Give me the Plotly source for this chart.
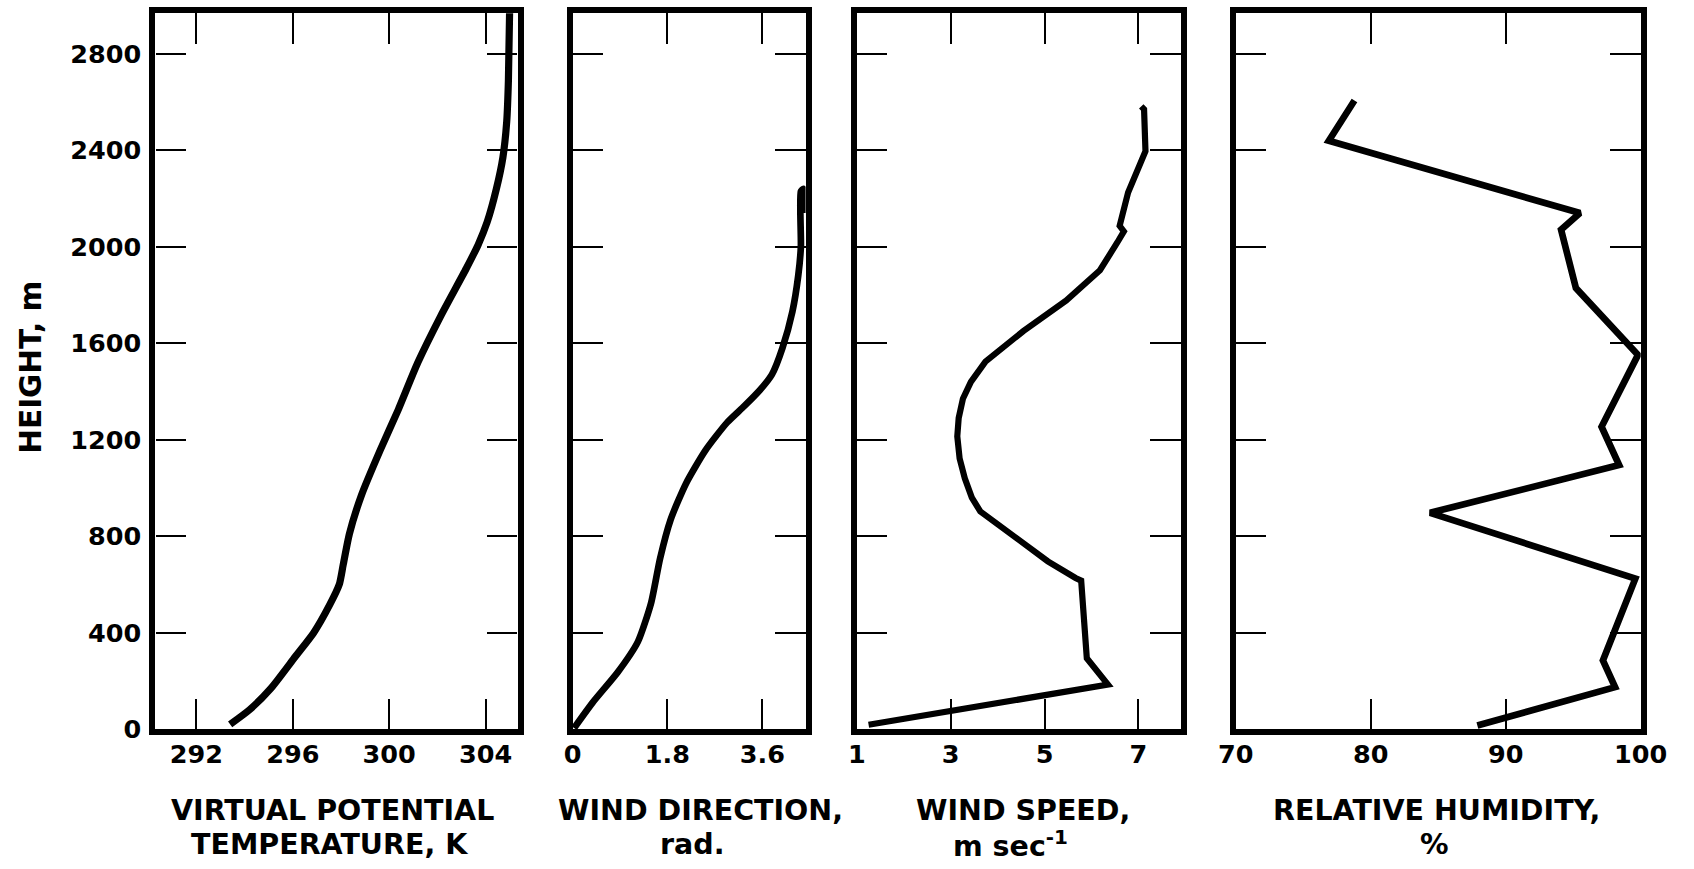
import plotly.graph_objects as go

# ---- vertical profiles (height in m) ----
theta_v = [293.4, 294.2, 295.1, 296.1, 296.87, 297.53, 297.93, 298.09, 298.35, 298.85,
           299.62, 300.38, 301.19, 302.15, 303.2, 303.7, 304.07, 304.45, 304.72, 304.88,
           304.95, 305.0]
theta_h = [20, 80, 170, 300, 400, 515, 600, 680, 810, 970,
           1155, 1325, 1520, 1715, 1910, 2010, 2103, 2240, 2370, 2520,
           2690, 2980]

wdir = [0.03, 0.38, 0.86, 1.24, 1.49, 1.66, 1.86, 2.15, 2.52, 2.93,
        3.26, 3.55, 3.78, 3.98, 4.17, 4.28, 4.33, 4.33, 4.38, 4.39]
wdir_h = [5, 110, 237, 363, 524, 708, 869, 1018, 1156, 1271,
          1340, 1405, 1470, 1580, 1732, 1880, 2000, 2230, 2240, 2140]

wspd = [1.25, 6.35, 5.9, 5.78, 5.66, 5.07, 3.63, 3.45, 3.3, 3.19,
        3.14, 3.17, 3.26, 3.43, 3.74, 4.55, 5.46, 6.18, 6.55, 6.69,
        6.6, 6.78, 7.15, 7.12, 7.06]
wspd_h = [18, 185, 294, 616, 627, 696, 903, 960, 1040, 1122,
          1214, 1290, 1370, 1440, 1524, 1651, 1777, 1903, 2018, 2064,
          2087, 2225, 2397, 2570, 2582]

rh = [87.9, 98.1, 97.2, 99.6, 84.4, 98.4, 97.1, 99.8, 95.2, 94.1, 95.5, 76.9, 78.8]
rh_h = [15, 174, 285, 624, 897, 1095, 1254, 1552, 1829, 2071, 2140, 2440, 2607]

# ---- axis ticks ----
height_ticks = [0, 400, 800, 1200, 1600, 2000, 2400, 2800]
theta_ticks = [292, 296, 300, 304]
wdir_ticks = [0, 1.8, 3.6]
wdir_ticktext = ["0", "1.8", "3.6"]
wspd_ticks = [1, 3, 5, 7]
rh_ticks = [70, 80, 90, 100]

W, H = 1694, 869
FONT = "DejaVu Sans"

fig = go.Figure()
fig.add_trace(go.Scatter(x=theta_v, y=theta_h, mode="lines", xaxis="x", yaxis="y",
                         line=dict(color="black", width=7.2, shape="spline", smoothing=0.6)))
fig.add_trace(go.Scatter(x=wdir, y=wdir_h, mode="lines", xaxis="x2", yaxis="y2",
                         line=dict(color="black", width=6.7, shape="spline", smoothing=0.6)))
fig.add_trace(go.Scatter(x=wspd, y=wspd_h, mode="lines", xaxis="x3", yaxis="y3",
                         line=dict(color="black", width=6.2)))
fig.add_trace(go.Scatter(x=rh, y=rh_h, mode="lines", xaxis="x4", yaxis="y4",
                         line=dict(color="black", width=6.7)))

tickfont = dict(family=FONT, size=25.5, color="black", weight="bold")
frame = dict(showline=True, linecolor="black", linewidth=6.2, mirror="allticks",
             ticks="inside", ticklen=30.6, tickwidth=2, tickcolor="black",
             showgrid=False, zeroline=False, tickfont=tickfont)

# panel placement in pixels
ydom = [(H - 742.2) / H, (H - 13.6) / H]
yrange = [-1, 2968]

def px(a, b):
    return [a / W, b / W]

fig.update_layout(
    width=W, height=H, margin=dict(l=0, r=0, t=0, b=0),
    paper_bgcolor="white", plot_bgcolor="white", showlegend=False,
    xaxis=dict(frame, domain=px(141.2, 513.2), range=[290.3, 305.33], anchor="y",
               tickvals=theta_ticks, ticklabelstandoff=-3),
    yaxis=dict(frame, domain=ydom, range=yrange, anchor="x",
               tickvals=height_ticks, ticklabelstandoff=3),
    xaxis2=dict(frame, domain=px(569.7, 809.1), range=[0, 4.42], anchor="y2",
                tickvals=wdir_ticks, ticktext=wdir_ticktext, ticklabelstandoff=-3),
    yaxis2=dict(frame, domain=ydom, range=yrange, anchor="x2",
                tickvals=height_ticks, showticklabels=False),
    xaxis3=dict(frame, domain=px(861.5, 1194.4), range=[0.995, 7.9], anchor="y3",
                tickvals=wspd_ticks, ticklabelstandoff=-3),
    yaxis3=dict(frame, domain=ydom, range=yrange, anchor="x3",
                tickvals=height_ticks, showticklabels=False),
    xaxis4=dict(frame, domain=px(1250.9, 1667.0), range=[70, 100], anchor="y4",
                tickvals=rh_ticks, ticklabelstandoff=-3, ticklabeloverflow="allow"),
    yaxis4=dict(frame, domain=ydom, range=yrange, anchor="x4",
                tickvals=height_ticks, showticklabels=False),
)

def label(text, x, y, size=28.5, angle=0):
    fig.add_annotation(text=text, x=x / W, y=(H - y) / H, xref="paper", yref="paper",
                       showarrow=False, xanchor="center", yanchor="middle",
                       textangle=angle,
                       font=dict(family=FONT, size=size, color="black", weight="bold"))

label("HEIGHT, m", 12.5, 374.0, size=29.5, angle=-90)
label("VIRTUAL POTENTIAL", 323.1, 824.3)
label("TEMPERATURE, K", 320.0, 859.0)
label("WIND DIRECTION,", 701.2, 824.3)
label("rad.", 693.0, 859.0)
label("WIND SPEED,", 1032.1, 824.3)
label("m sec<sup>-1</sup>", 1019.7, 859.0)
label("RELATIVE HUMIDITY,", 1457.0, 824.3)
label("%", 1455.0, 859.0)

fig.write_html("out.html")
